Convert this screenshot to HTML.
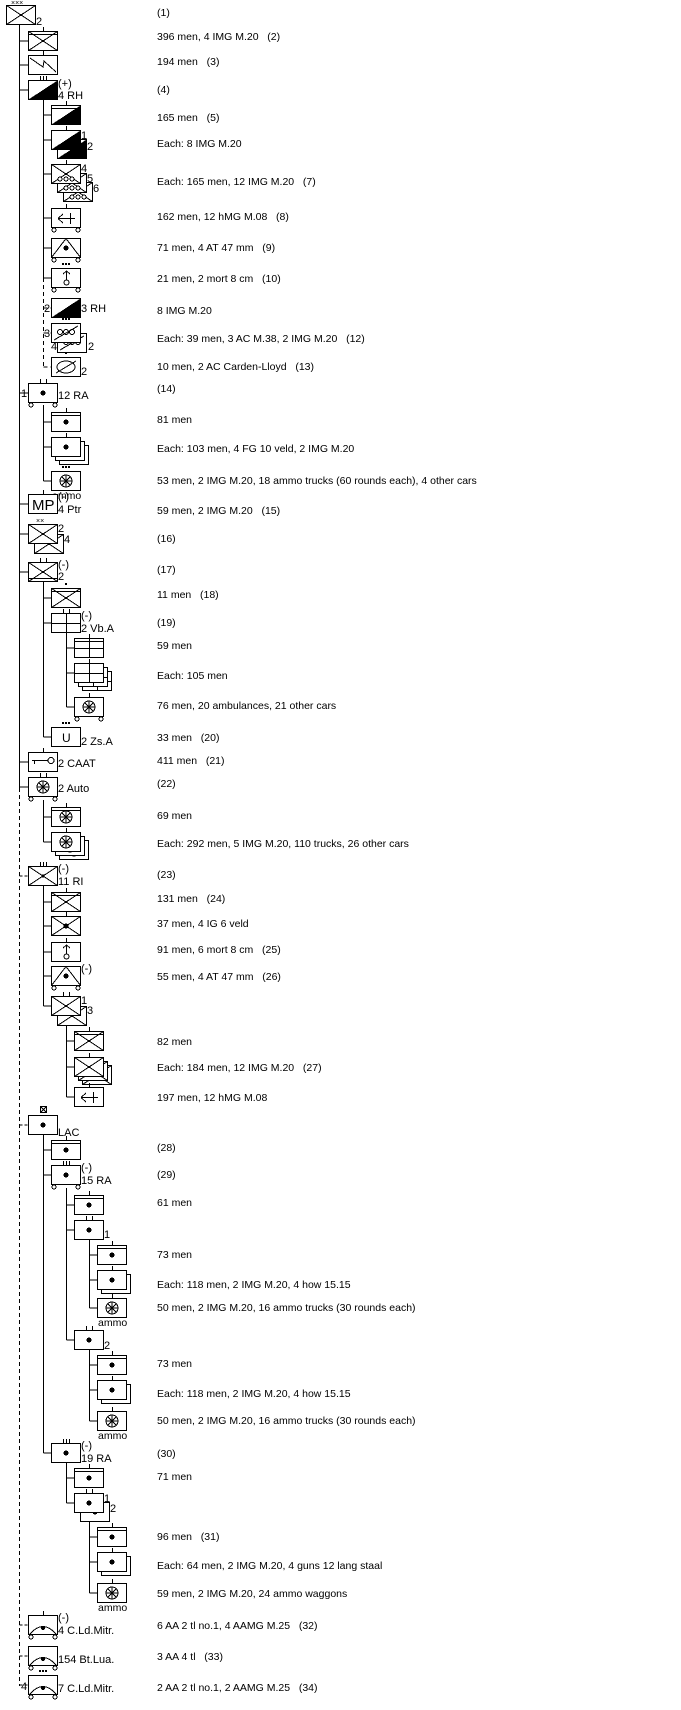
<!DOCTYPE html>
<html><head><meta charset="utf-8"><style>
html,body{margin:0;padding:0;background:#fff;}
svg{display:block;font-family:"Liberation Sans",sans-serif;}
text{white-space:pre;}
.t{font-size:10.5px;}
.l{font-size:11px;}
</style></head><body>
<svg width="681" height="1710" viewBox="0 0 681 1710" xmlns="http://www.w3.org/2000/svg" shape-rendering="crispEdges" xml:space="preserve">
<defs>
<g id="B"><rect x=".5" y=".5" width="29" height="19" fill="#fff" stroke="#000"/></g>
<g id="X"><path d="M.5 .5L29.5 19.5M.5 19.5L29.5 .5" stroke="#000" fill="none"/></g>
<g id="H"><path d="M0 3.5H30" stroke="#000"/></g>
<g id="Hb"><path d="M0 16.5H30" stroke="#000"/></g>
<g id="C"><path d="M29.5 .5V19.5H.5Z" fill="#000"/></g>
<g id="D"><circle cx="15" cy="10" r="2.5" fill="#000"/></g>
<g id="W"><circle cx="3" cy="22" r="2" fill="#fff" stroke="#000"/><circle cx="27" cy="22" r="2" fill="#fff" stroke="#000"/></g>
<g id="T"><path d="M15.5 0V-4" stroke="#000"/></g>
<g id="inf"><use href="#B"/><use href="#X"/></g>
<g id="infh"><use href="#inf"/><use href="#H"/><use href="#T"/></g>
<g id="cav"><use href="#B"/><use href="#C"/></g>
<g id="art"><use href="#B"/><use href="#D"/></g>
<g id="arth"><use href="#art"/><use href="#H"/><use href="#T"/></g>
<g id="sig"><use href="#B"/><path d="M2 3L15 12L16 6L28 17" stroke="#000" fill="none"/></g>
<g id="mot"><use href="#inf"/><circle cx="9" cy="15" r="2" fill="#fff" stroke="#000"/><circle cx="15" cy="15" r="2" fill="#fff" stroke="#000"/><circle cx="21" cy="15" r="2" fill="#fff" stroke="#000"/></g>
<g id="hmg"><use href="#B"/><path d="M7 10.5H24M7 10.5L12 6M7 10.5L12 15M19.5 5V16" stroke="#000" fill="none"/></g>
<g id="at"><use href="#B"/><path d="M.5 19.5L15 .5L29.5 19.5" stroke="#000" fill="none"/><use href="#D"/></g>
<g id="mor"><use href="#B"/><path d="M15.5 12V3M12 6L15.5 3L19 6" stroke="#000" fill="none"/><circle cx="15.5" cy="14.5" r="2.5" fill="#fff" stroke="#000"/></g>
<g id="ac"><use href="#B"/><circle cx="9" cy="9" r="2.5" fill="none" stroke="#000"/><circle cx="15" cy="9" r="2.5" fill="none" stroke="#000"/><circle cx="21" cy="9" r="2.5" fill="none" stroke="#000"/><path d="M3 17L27 3" stroke="#000"/></g>
<g id="ova"><use href="#B"/><ellipse cx="15" cy="10" rx="9" ry="6" fill="none" stroke="#000"/><path d="M5 16L25 4" stroke="#000"/></g>
<g id="med"><use href="#B"/><path d="M15.5 0V20M0 10.5H30" stroke="#000"/></g>
<g id="sup"><use href="#B"/><circle cx="15" cy="10" r="6" fill="none" stroke="#000"/><path d="M15 4V16M9 10H21M11 6L19 14M19 6L11 14" stroke="#000"/></g>
<g id="aa"><use href="#B"/><path d="M2 19Q15 4 28 19" fill="none" stroke="#000"/><circle cx="15" cy="13" r="2" fill="#000"/><use href="#W"/></g>
<g id="key"><use href="#B"/><path d="M4 8.5H20M6.5 8V12" stroke="#000"/><circle cx="23" cy="8.5" r="3" fill="#fff" stroke="#000"/></g>
<g id="dots"><rect x="11" y="-5" width="2" height="2"/><rect x="14" y="-5" width="2" height="2"/><rect x="17" y="-5" width="2" height="2"/></g>
<g id="t3"><path d="M12.5 0V-4M15.5 0V-4M18.5 0V-4" stroke="#000"/></g>
<g id="t2"><path d="M12.5 0V-4M18.5 0V-4" stroke="#000"/></g>
</defs>

<g stroke="#000" fill="none">
<path d="M19.5 24V788"/>
<path d="M19.5 788V1686" stroke-dasharray="4,3"/>
<path d="M19.5 41H28M19.5 65H28M19.5 90H28M19.5 393H28M19.5 504H28M19.5 534H28M19.5 572H28M19.5 762H28M19.5 787H28"/>
<path d="M19.5 876H28M19.5 1125H28M19.5 1625H28M19.5 1656H28M19.5 1685H28" stroke-dasharray="3,2"/>
<path d="M43.5 99V278M43.5 115H51M43.5 140H51M43.5 174H51M43.5 218H51M43.5 248H51M43.5 278H51"/>
<path d="M43.5 278V367M43.5 308H51M43.5 333H51M43.5 367H51" stroke-dasharray="4,3"/>
<path d="M43.5 405V481M43.5 422H51M43.5 447H51M43.5 481H51"/>
<path d="M43.5 582V737M43.5 598H51M43.5 623H51M43.5 737H51"/>
<path d="M66.5 633V707M66.5 648H74M66.5 673H74M66.5 707H74"/>
<path d="M43.5 800V842M43.5 817H51M43.5 842H51"/>
<path d="M43.5 886V1006M43.5 902H51M43.5 926H51M43.5 952H51M43.5 976H51M43.5 1006H51"/>
<path d="M66.5 1026V1097M66.5 1041H74M66.5 1067H74M66.5 1097H74"/>
<path d="M43.5 1135V1453M43.5 1150H51M43.5 1175H51M43.5 1453H51"/>
<path d="M66.5 1188V1340M66.5 1205H74M66.5 1230H74M66.5 1340H74"/>
<path d="M89.5 1240V1308M89.5 1255H97M89.5 1280H97M89.5 1308H97"/>
<path d="M89.5 1350V1421M89.5 1365H97M89.5 1390H97M89.5 1421H97"/>
<path d="M66.5 1463V1503M66.5 1478H74M66.5 1503H74"/>
<path d="M89.5 1522V1593M89.5 1537H97M89.5 1562H97M89.5 1593H97"/>
</g>

<use href="#inf" x="6" y="5"/>
<text x="11" y="5" style="font-size:7px">×××</text>
<text class="l" x="36" y="25">2</text>

<use href="#infh" x="28" y="31"/>
<use href="#sig" x="28" y="55"/><use href="#T" x="28" y="55"/>
<use href="#cav" x="28" y="80"/><use href="#t3" x="28" y="80"/>
<text class="l" x="58" y="87">(+)</text><text class="l" x="58" y="99">4 RH</text>

<use href="#cav" x="51" y="105"/><use href="#H" x="51" y="105"/><use href="#T" x="51" y="105"/>
<use href="#cav" x="57" y="139"/><use href="#cav" x="51" y="130"/><use href="#T" x="51" y="130"/>
<text class="l" x="81" y="139">1</text><text class="l" x="87" y="150">2</text>
<use href="#mot" x="63" y="182"/><use href="#mot" x="57" y="173"/><use href="#mot" x="51" y="164"/><use href="#T" x="51" y="164"/>
<text class="l" x="81" y="172">4</text><text class="l" x="87" y="182">5</text><text class="l" x="93" y="192">6</text>
<use href="#hmg" x="51" y="208"/><use href="#W" x="51" y="208"/><use href="#T" x="51" y="208"/>
<use href="#at" x="51" y="238"/><use href="#W" x="51" y="238"/>
<use href="#mor" x="51" y="268"/><use href="#W" x="51" y="268"/><use href="#dots" x="51" y="268"/>
<use href="#cav" x="51" y="298"/><text class="l" x="44" y="312">2</text><text class="l" x="81" y="312">3 RH</text>
<use href="#ac" x="57" y="333"/><use href="#ac" x="51" y="323"/><use href="#dots" x="51" y="323"/>
<text class="l" x="44" y="337">3</text><text class="l" x="51" y="350">4</text><text class="l" x="88" y="350">2</text>
<use href="#ova" x="51" y="357"/><rect x="65" y="352" width="2" height="2"/>
<text class="l" x="81" y="375">2</text>

<use href="#art" x="28" y="383"/><use href="#W" x="28" y="383"/><use href="#t2" x="28" y="383"/>
<text class="l" x="21" y="397">1</text><text class="l" x="58" y="399">12 RA</text>
<use href="#arth" x="51" y="412"/>
<use href="#art" x="59" y="445"/><use href="#art" x="55" y="441"/><use href="#art" x="51" y="437"/><use href="#T" x="51" y="437"/>
<use href="#sup" x="51" y="471"/><use href="#dots" x="51" y="471"/>
<text class="t" x="52" y="499">ammo</text>

<use href="#B" x="28" y="494"/><text x="32" y="510" style="font-size:15px">MP</text><use href="#T" x="28" y="494"/>
<text class="l" x="58" y="500">(-)</text><text class="l" x="58" y="513">4 Ptr</text>
<use href="#inf" x="34" y="534"/><use href="#inf" x="28" y="524"/>
<text x="36" y="523" style="font-size:7px">××</text>
<text class="l" x="58" y="532">2</text><text class="l" x="64" y="543">4</text>
<use href="#inf" x="28" y="562"/><use href="#Hb" x="28" y="562"/><use href="#t2" x="28" y="562"/>
<text class="l" x="58" y="568">(-)</text><text class="l" x="58" y="580">2</text>
<use href="#inf" x="51" y="588"/><use href="#H" x="51" y="588"/><rect x="65" y="583" width="2" height="2"/>
<use href="#med" x="51" y="613"/><use href="#t2" x="51" y="613"/>
<text class="l" x="81" y="619">(-)</text><text class="l" x="81" y="632">2 Vb.A</text>
<use href="#med" x="74" y="638"/><use href="#H" x="74" y="638"/><use href="#T" x="74" y="638"/>
<use href="#med" x="82" y="671"/><use href="#med" x="78" y="667"/><use href="#med" x="74" y="663"/><use href="#T" x="74" y="663"/>
<use href="#sup" x="74" y="697"/><use href="#W" x="74" y="697"/><use href="#T" x="74" y="697"/>
<use href="#B" x="51" y="727"/><text x="62" y="742" style="font-size:12px">U</text><use href="#dots" x="51" y="727"/>
<text class="l" x="81" y="745">2 Zs.A</text>
<use href="#key" x="28" y="752"/><use href="#T" x="28" y="752"/><text class="l" x="58" y="767">2 CAAT</text>
<use href="#sup" x="28" y="777"/><use href="#W" x="28" y="777"/><use href="#t2" x="28" y="777"/>
<text class="l" x="58" y="792">2 Auto</text>
<use href="#sup" x="51" y="807"/><use href="#H" x="51" y="807"/><use href="#T" x="51" y="807"/>
<use href="#sup" x="59" y="840"/><use href="#sup" x="55" y="836"/><use href="#sup" x="51" y="832"/><use href="#T" x="51" y="832"/>
<use href="#inf" x="28" y="866"/><circle cx="43" cy="876" r="1.5"/><use href="#t3" x="28" y="866"/>
<text class="l" x="58" y="872">(-)</text><text class="l" x="58" y="885">11 RI</text>
<use href="#infh" x="51" y="892"/>
<use href="#inf" x="51" y="916"/><use href="#D" x="51" y="916"/><use href="#T" x="51" y="916"/>
<use href="#mor" x="51" y="942"/><use href="#T" x="51" y="942"/>
<use href="#at" x="51" y="966"/><use href="#W" x="51" y="966"/><text class="l" x="81" y="972">(-)</text>
<use href="#inf" x="57" y="1006"/><use href="#inf" x="51" y="996"/><use href="#t2" x="51" y="996"/>
<text class="l" x="81" y="1004">1</text><text class="l" x="87" y="1014">3</text>
<use href="#infh" x="74" y="1031"/>
<use href="#inf" x="82" y="1065"/><use href="#inf" x="78" y="1061"/><use href="#inf" x="74" y="1057"/><use href="#T" x="74" y="1057"/>
<use href="#hmg" x="74" y="1087"/><use href="#T" x="74" y="1087"/>
<use href="#art" x="28" y="1115"/>
<rect x="40.5" y="1106.5" width="6" height="6" fill="#fff" stroke="#000"/><path d="M41 1107L46 1112M46 1107L41 1112" stroke="#000"/>
<text class="l" x="58" y="1136">LAC</text>
<use href="#arth" x="51" y="1140"/>
<use href="#art" x="51" y="1165"/><use href="#W" x="51" y="1165"/><use href="#t3" x="51" y="1165"/>
<text class="l" x="81" y="1171">(-)</text><text class="l" x="81" y="1184">15 RA</text>
<use href="#arth" x="74" y="1195"/>
<use href="#art" x="74" y="1220"/><use href="#t2" x="74" y="1220"/><text class="l" x="104" y="1238">1</text>
<use href="#arth" x="97" y="1245"/>
<use href="#art" x="101" y="1274"/><use href="#art" x="97" y="1270"/><use href="#T" x="97" y="1270"/>
<use href="#sup" x="97" y="1298"/><use href="#T" x="97" y="1298"/><text class="t" x="98" y="1326">ammo</text>
<use href="#art" x="74" y="1330"/><use href="#t2" x="74" y="1330"/><text class="l" x="104" y="1349">2</text>
<use href="#arth" x="97" y="1355"/>
<use href="#art" x="101" y="1384"/><use href="#art" x="97" y="1380"/><use href="#T" x="97" y="1380"/>
<use href="#sup" x="97" y="1411"/><use href="#T" x="97" y="1411"/><text class="t" x="98" y="1439">ammo</text>
<use href="#art" x="51" y="1443"/><use href="#t3" x="51" y="1443"/>
<text class="l" x="81" y="1449">(-)</text><text class="l" x="81" y="1462">19 RA</text>
<use href="#arth" x="74" y="1468"/>
<use href="#art" x="80" y="1502"/><use href="#art" x="74" y="1493"/><use href="#t2" x="74" y="1493"/>
<text class="l" x="104" y="1502">1</text><text class="l" x="110" y="1512">2</text>
<use href="#arth" x="97" y="1527"/>
<use href="#art" x="101" y="1556"/><use href="#art" x="97" y="1552"/><use href="#T" x="97" y="1552"/>
<use href="#sup" x="97" y="1583"/><use href="#T" x="97" y="1583"/><text class="t" x="98" y="1611">ammo</text>
<use href="#aa" x="28" y="1615"/><use href="#T" x="28" y="1615"/>
<text class="l" x="58" y="1621">(-)</text><text class="l" x="58" y="1634">4 C.Ld.Mitr.</text>
<use href="#aa" x="28" y="1646"/><text class="l" x="58" y="1663">154 Bt.Lua.</text>
<use href="#aa" x="28" y="1675"/><use href="#dots" x="28" y="1675"/>
<text class="l" x="21" y="1690">4</text><text class="l" x="58" y="1692">7 C.Ld.Mitr.</text>

<g class="t">
<text x="157" y="16">(1)</text>
<text x="157" y="40">396 men, 4 IMG M.20   (2)</text>
<text x="157" y="65">194 men   (3)</text>
<text x="157" y="93">(4)</text>
<text x="157" y="121">165 men   (5)</text>
<text x="157" y="147">Each: 8 IMG M.20</text>
<text x="157" y="185">Each: 165 men, 12 IMG M.20   (7)</text>
<text x="157" y="220">162 men, 12 hMG M.08   (8)</text>
<text x="157" y="251">71 men, 4 AT 47 mm   (9)</text>
<text x="157" y="282">21 men, 2 mort 8 cm   (10)</text>
<text x="157" y="314">8 IMG M.20</text>
<text x="157" y="342">Each: 39 men, 3 AC M.38, 2 IMG M.20   (12)</text>
<text x="157" y="370">10 men, 2 AC Carden-Lloyd   (13)</text>
<text x="157" y="392">(14)</text>
<text x="157" y="423">81 men</text>
<text x="157" y="452">Each: 103 men, 4 FG 10 veld, 2 IMG M.20</text>
<text x="157" y="484">53 men, 2 IMG M.20, 18 ammo trucks (60 rounds each), 4 other cars</text>
<text x="157" y="514">59 men, 2 IMG M.20   (15)</text>
<text x="157" y="542">(16)</text>
<text x="157" y="573">(17)</text>
<text x="157" y="598">11 men   (18)</text>
<text x="157" y="626">(19)</text>
<text x="157" y="649">59 men</text>
<text x="157" y="679">Each: 105 men</text>
<text x="157" y="709">76 men, 20 ambulances, 21 other cars</text>
<text x="157" y="741">33 men   (20)</text>
<text x="157" y="764">411 men   (21)</text>
<text x="157" y="787">(22)</text>
<text x="157" y="819">69 men</text>
<text x="157" y="847">Each: 292 men, 5 IMG M.20, 110 trucks, 26 other cars</text>
<text x="157" y="878">(23)</text>
<text x="157" y="902">131 men   (24)</text>
<text x="157" y="927">37 men, 4 IG 6 veld</text>
<text x="157" y="953">91 men, 6 mort 8 cm   (25)</text>
<text x="157" y="980">55 men, 4 AT 47 mm   (26)</text>
<text x="157" y="1045">82 men</text>
<text x="157" y="1071">Each: 184 men, 12 IMG M.20   (27)</text>
<text x="157" y="1101">197 men, 12 hMG M.08</text>
<text x="157" y="1151">(28)</text>
<text x="157" y="1178">(29)</text>
<text x="157" y="1206">61 men</text>
<text x="157" y="1258">73 men</text>
<text x="157" y="1288">Each: 118 men, 2 IMG M.20, 4 how 15.15</text>
<text x="157" y="1311">50 men, 2 IMG M.20, 16 ammo trucks (30 rounds each)</text>
<text x="157" y="1367">73 men</text>
<text x="157" y="1397">Each: 118 men, 2 IMG M.20, 4 how 15.15</text>
<text x="157" y="1424">50 men, 2 IMG M.20, 16 ammo trucks (30 rounds each)</text>
<text x="157" y="1457">(30)</text>
<text x="157" y="1480">71 men</text>
<text x="157" y="1540">96 men   (31)</text>
<text x="157" y="1569">Each: 64 men, 2 IMG M.20, 4 guns 12 lang staal</text>
<text x="157" y="1597">59 men, 2 IMG M.20, 24 ammo waggons</text>
<text x="157" y="1629">6 AA 2 tl no.1, 4 AAMG M.25   (32)</text>
<text x="157" y="1660">3 AA 4 tl   (33)</text>
<text x="157" y="1691">2 AA 2 tl no.1, 2 AAMG M.25   (34)</text>
</g>
</svg>
</body></html>
